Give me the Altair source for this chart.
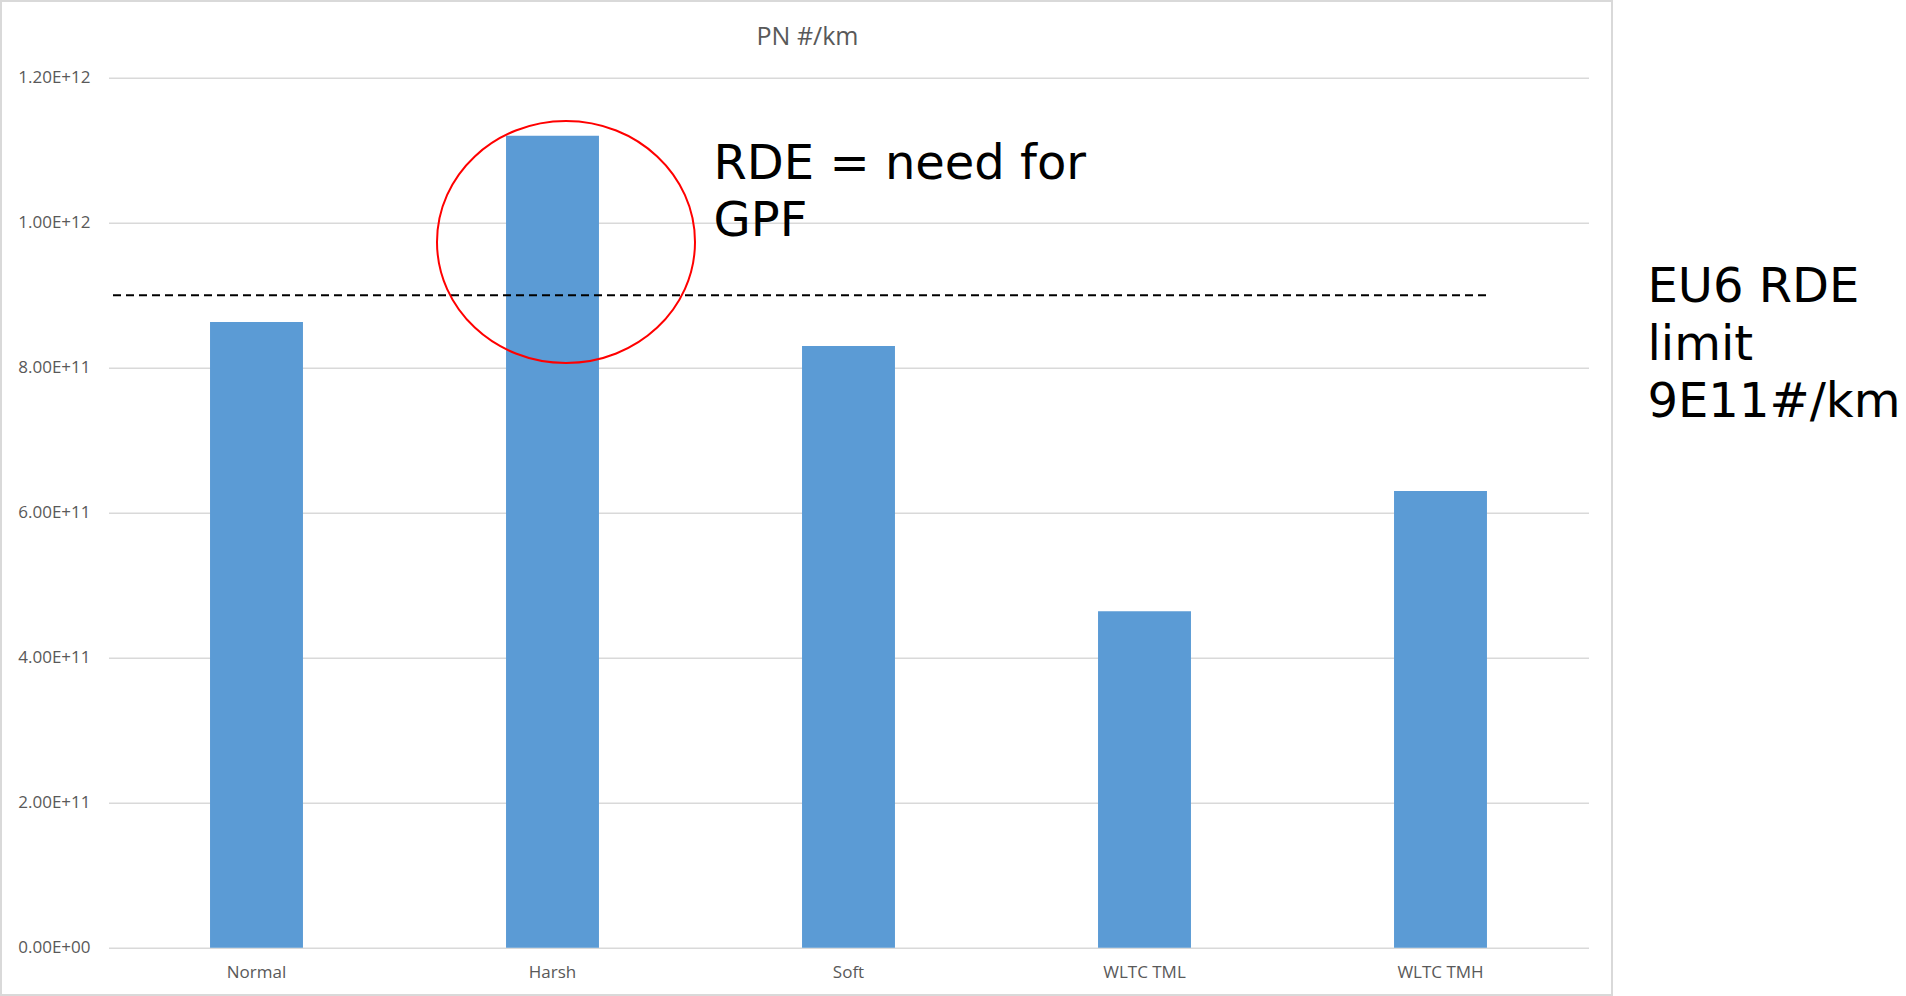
import altair as alt
import pandas as pd

# Particle number per km for each driving cycle
categories = ["Normal", "Harsh", "Soft", "WLTC TML", "WLTC TMH"]
pn_values = [8.63e11, 1.12e12, 8.30e11, 4.64e11, 6.30e11]

# Axis ticks and the EU6 RDE limit line
y_ticks = [0, 2e11, 4e11, 6e11, 8e11, 1.0e12, 1.2e12]
rde_limit = [9e11]

bars_df = pd.DataFrame({"cycle": categories, "pn": pn_values})
limit_df = pd.DataFrame({"limit": rde_limit})
one_row = pd.DataFrame({"k": [0]})

W, H = 1480, 870
PAD_L, PAD_T = 108.5, 77.7

GREY = "#595959"
LABEL_FONT = "Open Sans"
NOTE_FONT = "DejaVu Sans"

y_scale = alt.Scale(domain=[0, 1.2e12], nice=False, zero=True)
x_scale = alt.Scale(domain=categories, paddingInner=0.686, paddingOuter=0.343)

# outer chart frame
frame = alt.Chart(one_row).mark_rect(
    fillOpacity=0, stroke="#d9d9d9", strokeWidth=2
).encode(
    x=alt.value(1 - PAD_L), x2=alt.value(1612 - PAD_L),
    y=alt.value(1 - PAD_T), y2=alt.value(995 - PAD_T),
)

bars = alt.Chart(bars_df).mark_bar(color="#5b9bd5").encode(
    x=alt.X(
        "cycle:N", sort=categories, scale=x_scale,
        axis=alt.Axis(
            title=None, labelAngle=0, labelFont=LABEL_FONT, labelFontSize=17,
            labelColor=GREY, ticks=False, tickSize=0, domain=False,
            labelPadding=30, labelBaseline="alphabetic", grid=False,
        ),
    ),
    y=alt.Y(
        "pn:Q", scale=y_scale,
        axis=alt.Axis(
            title=None, values=y_ticks, labelFont=LABEL_FONT, labelFontSize=17,
            labelColor=GREY, ticks=False, tickSize=0, domain=False,
            labelPadding=18.5, grid=True, gridColor="#d9d9d9", gridWidth=1.6,
            labelExpr="datum.value == 0 ? '0.00E+00' : upper(format(datum.value, '.2e'))",
        ),
    ),
)

limit_line = alt.Chart(limit_df).mark_rule(
    color="black", strokeWidth=2, strokeDash=[8, 5]
).encode(
    y=alt.Y("limit:Q", scale=y_scale),
    x=alt.value(113 - PAD_L), x2=alt.value(1490 - PAD_L),
)

ellipse_path = "M -1 0 A 1 0.938 0 1 1 1 0 A 1 0.938 0 1 1 -1 0 Z"
ellipse = alt.Chart(one_row).mark_point(
    shape=ellipse_path, size=258 * 258, filled=False,
    stroke="#ff0000", strokeWidth=2, opacity=1,
).encode(
    x=alt.value(566 - PAD_L), y=alt.value(242 - PAD_T),
)

title = alt.Chart(one_row).mark_text(
    text="PN #/km", font=LABEL_FONT, fontSize=25, color=GREY,
    align="center", baseline="alphabetic",
).encode(x=alt.value(807.5 - PAD_L), y=alt.value(45 - PAD_T))

gpf_note = alt.Chart(one_row).mark_text(
    text=["RDE = need for", "GPF"], font=NOTE_FONT, fontSize=48,
    color="black", align="left", baseline="alphabetic", lineHeight=57,
).encode(x=alt.value(713.5 - PAD_L), y=alt.value(179 - PAD_T))

limit_note = alt.Chart(one_row).mark_text(
    text=["EU6 RDE", "limit", "9E11#/km"], font=NOTE_FONT, fontSize=48,
    color="black", align="left", baseline="alphabetic", lineHeight=57.3,
).encode(x=alt.value(1647.5 - PAD_L), y=alt.value(302.3 - PAD_T))

chart = alt.layer(
    frame, bars, limit_line, ellipse, title, gpf_note, limit_note
).properties(
    width=W, height=H,
    autosize=alt.AutoSizeParams(type="none"),
    padding={"left": PAD_L, "top": PAD_T, "right": 1906 - PAD_L - W, "bottom": 996 - PAD_T - H},
    background="white",
).configure_view(stroke=None)

chart.save("out.html", embed_options={"renderer": "svg", "actions": False})
